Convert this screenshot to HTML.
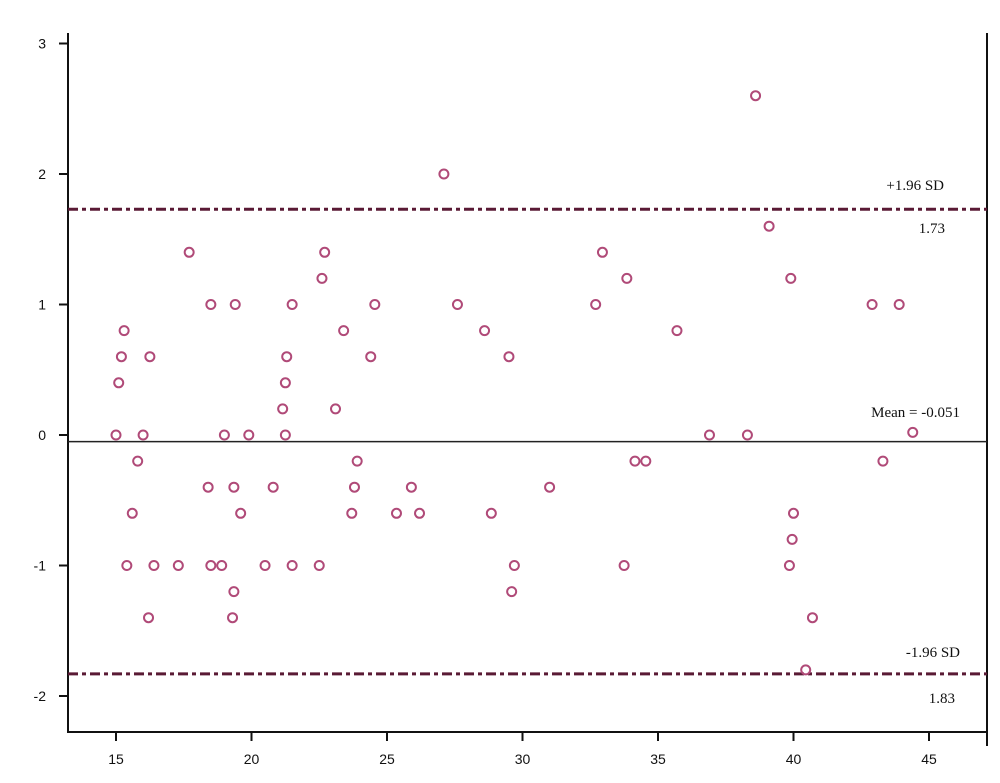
<!DOCTYPE html>
<html><head><meta charset="utf-8"><style>
body{margin:0;background:#fff}
svg{display:block}
.t{font-family:"Liberation Sans",sans-serif;font-size:14px;fill:#111}
.a{font-family:"Liberation Serif",serif;font-size:15px;fill:#111}
</style></head><body>
<svg id="chart" width="1000" height="783">
<g id="axes"></g><g id="lines"></g><g id="pts"></g><g id="ann"></g>
</svg>
<script>
const xTicks=[15,20,25,30,35,40,45];
const yTicks=[3,2,1,0,-1,-2];
const xVals=[15.0,15.1,15.2,15.3,15.4,15.6,15.8,16.0,16.2,16.25,16.4,17.3,17.7,18.4,18.5,18.5,18.9,19.0,19.3,19.35,19.35,19.4,19.6,19.9,20.5,20.8,21.15,21.25,21.25,21.3,21.5,21.5,22.5,22.6,22.7,23.1,23.4,23.7,23.8,23.9,24.4,24.55,25.35,25.9,26.2,27.1,27.6,28.6,28.85,29.5,29.6,29.7,31.0,32.7,32.95,33.75,33.85,34.15,34.55,35.7,36.9,38.3,38.6,39.1,39.85,39.9,39.95,40.0,40.45,40.7,42.9,43.3,43.9,44.4];
const yVals=[0,0.4,0.6,0.8,-1,-0.6,-0.2,0,-1.4,0.6,-1,-1,1.4,-0.4,1,-1,-1,0,-1.4,-1.2,-0.4,1,-0.6,0,-1,-0.4,0.2,0.4,0,0.6,1,-1,-1,1.2,1.4,0.2,0.8,-0.6,-0.4,-0.2,0.6,1,-0.6,-0.4,-0.6,2,1,0.8,-0.6,0.6,-1.2,-1,-0.4,1,1.4,-1,1.2,-0.2,-0.2,0.8,0,0,2.6,1.6,-1,1.2,-0.8,-0.6,-1.8,-1.4,1,-0.2,1,0.02];
const meanVal=-0.051, upperVal=1.73, lowerVal=-1.83;
const X=v=>116+(v-15)*27.1;
const Y=v=>435-v*130.5;
const NS='http://www.w3.org/2000/svg';
function mk(p,tag,at){const e=document.createElementNS(NS,tag);for(const k in at)e.setAttribute(k,at[k]);p.appendChild(e);return e;}
const axes=document.getElementById('axes');
let e=mk(axes,'line',{x1:68,y1:33,x2:68,y2:732,stroke:'#111','stroke-width':2});


e=mk(axes,'line',{x1:67,y1:732,x2:988,y2:732,stroke:'#111','stroke-width':2});


e=mk(axes,'line',{x1:987,y1:33,x2:987,y2:746,stroke:'#111','stroke-width':2});


xTicks.forEach(v=>{
 mk(axes,'line',{x1:X(v),y1:732,x2:X(v),y2:741,stroke:'#111','stroke-width':2});
 const t=mk(axes,'text',{x:X(v),y:764,'text-anchor':'middle',class:'t'});t.textContent=v;
 
 
});
yTicks.forEach(v=>{
 mk(axes,'line',{x1:59,y1:Y(v),x2:68,y2:Y(v),stroke:'#111','stroke-width':2});
 const t=mk(axes,'text',{x:46,y:Y(v)+5,'text-anchor':'end',class:'t'});t.textContent=v;
 
 
});
const lines=document.getElementById('lines');
e=mk(lines,'line',{x1:68,y1:Y(meanVal),x2:987,y2:Y(meanVal),stroke:'#222','stroke-width':1.5});


[[upperVal,'upper-limit-line'],[lowerVal,'lower-limit-line']].forEach(([v,n])=>{
 const l=mk(lines,'line',{x1:68,y1:Y(v),x2:987,y2:Y(v),stroke:'#5a1a35','stroke-width':3,'stroke-dasharray':'10 4 4 4'});
 
 
});
const pts=document.getElementById('pts');
xVals.forEach((v,i)=>{
 const c=mk(pts,'circle',{cx:X(v),cy:Y(yVals[i]),r:4.5,fill:'none',stroke:'#b04a78','stroke-width':2});
 
 
});
const ann=document.getElementById('ann');
[['+1.96 SD',944,190,'upper-limit-label'],['1.73',945,233,'upper-limit-value'],['Mean = -0.051',960,417,'mean-label'],['-1.96 SD',960,657,'lower-limit-label'],['1.83',955,703,'lower-limit-value']].forEach(([s,x,y,n])=>{
 const t=mk(ann,'text',{x:x,y:y,'text-anchor':'end',class:'a'});t.textContent=s;
 
 
});
</script>
</body></html>
